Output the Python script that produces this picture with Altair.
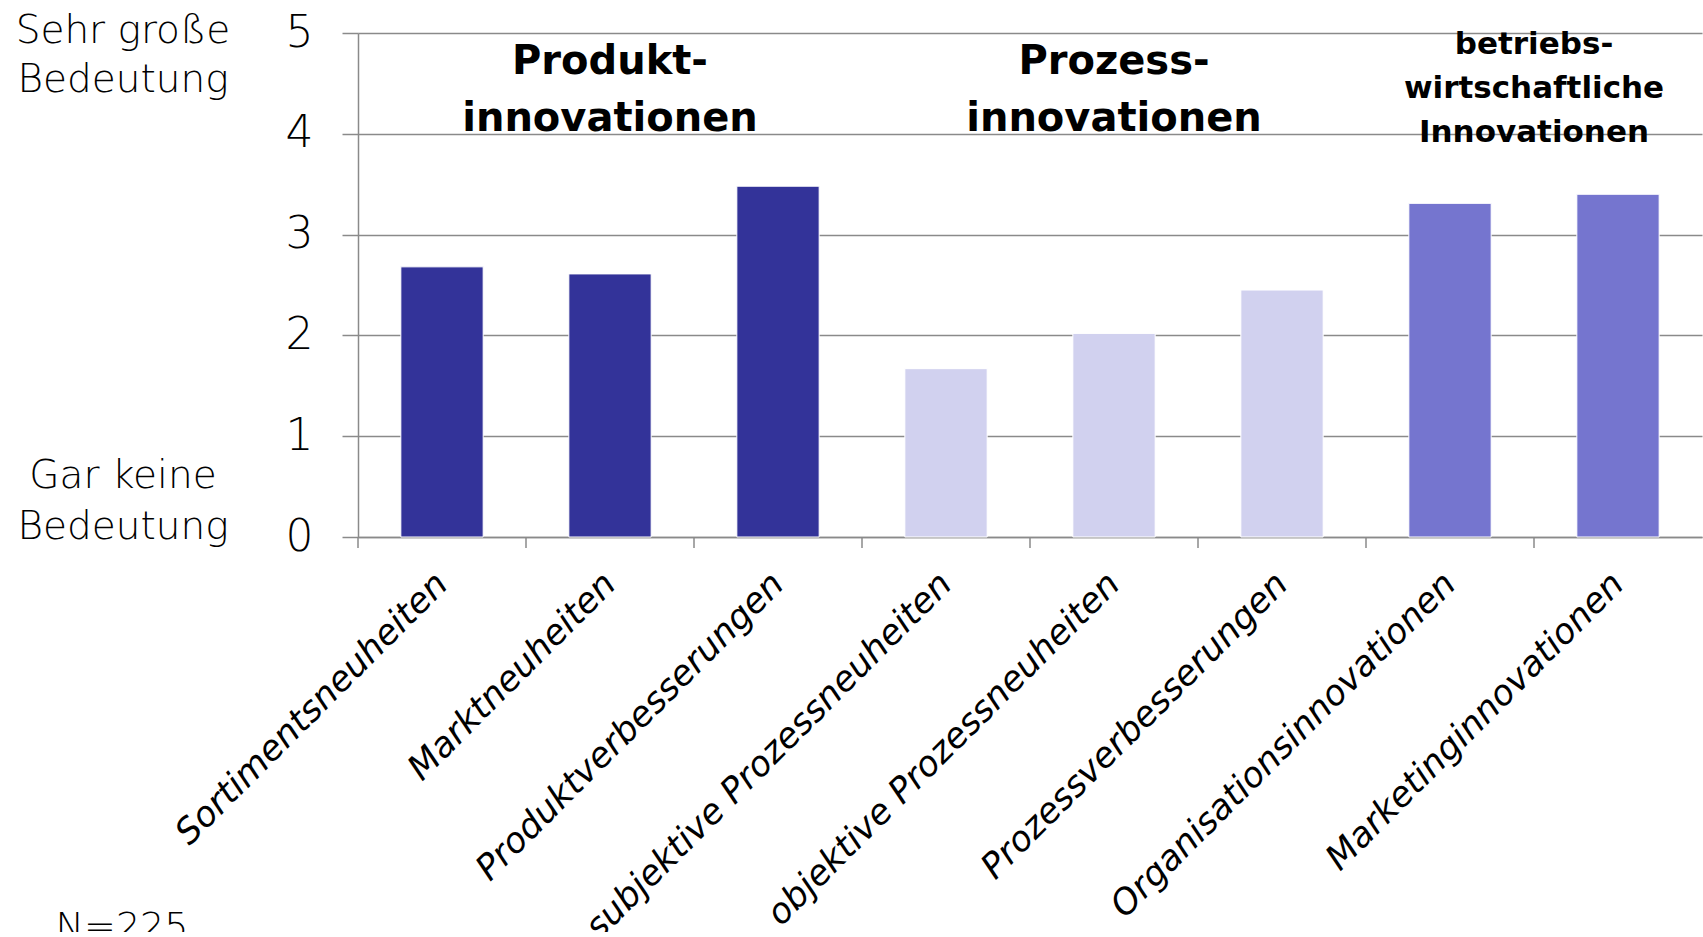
import altair as alt
import pandas as pd

categories = ["Sortimentsneuheiten", "Marktneuheiten", "Produktverbesserungen",
              "subjektive Prozessneuheiten", "objektive Prozessneuheiten",
              "Prozessverbesserungen", "Organisationsinnovationen", "Marketinginnovationen"]
values = [2.68, 2.61, 3.48, 1.67, 2.02, 2.45, 3.31, 3.40]
groups = ["Produkt", "Produkt", "Produkt", "Prozess", "Prozess", "Prozess", "Betrieb", "Betrieb"]
group_names = ["Produkt", "Prozess", "Betrieb"]
group_colors = ["#333399", "#D1D1EF", "#7575CF"]
y_ticks = [0, 1, 2, 3, 4, 5]
top_label = "Sehr große\nBedeutung"
bottom_label = "Gar keine\nBedeutung"
n_label = "N=225"
title_produkt = "Produkt-\ninnovationen"
title_prozess = "Prozess-\ninnovationen"
title_betrieb = "betriebs-\nwirtschaftliche\nInnovationen"

FONT = "DejaVu Sans"
LIGHT = 300
GRID = "#8a8a8a"

df = pd.DataFrame({"cat": categories, "val": values, "grp": groups})

xscale = alt.Scale(domain=categories, paddingInner=0, paddingOuter=0)
yscale = alt.Scale(domain=[0, 5], nice=False)

x_enc = alt.X("cat:N", sort=categories, scale=xscale,
              axis=alt.Axis(title=None, labelAngle=-45, labelAlign="right",
                            labelBaseline="middle", labelFontSize=35,
                            labelFontStyle="italic", labelFont=FONT, labelFontWeight=LIGHT,
                            labelColor="black", labelLimit=0,
                            labelPadding=41, ticks=False, tickSize=0,
                            domainColor=GRID, domainWidth=1.5, grid=False,
                            labelOverlap=False))
y_enc = alt.Y("val:Q", scale=yscale,
              axis=alt.Axis(title=None, values=y_ticks, labelFontSize=44, labelFont=FONT,
                            labelFontWeight=LIGHT,
                            labelColor="black", labelPadding=29, tickSize=16,
                            tickColor=GRID, tickWidth=1.5, domainColor=GRID, domainWidth=1.5,
                            grid=True, gridColor=GRID, gridWidth=1.5, format="d"))

bars = alt.Chart(df).mark_bar(width=alt.RelativeBandSize(0.49), stroke="white",
                              strokeWidth=1).encode(
    x=x_enc, y=y_enc,
    color=alt.Color("grp:N", scale=alt.Scale(domain=group_names, range=group_colors),
                    legend=None),
)

ticks = alt.Chart(df).mark_rule(color=GRID, strokeWidth=1.5).encode(
    x=alt.X("cat:N", sort=categories, scale=xscale, bandPosition=0),
    y=alt.datum(0),
    y2=alt.value(515),
)


def group_title(cat, text, band, ybase, size, lh):
    return alt.Chart(alt.Data(values=[{"cat": cat, "t": text}])).mark_text(
        font=FONT, fontWeight="bold", fontSize=size, lineHeight=lh, lineBreak="\n",
        align="center", baseline="alphabetic", color="black", clip=False,
    ).encode(
        x=alt.X("cat:N", sort=categories, scale=xscale, bandPosition=band),
        y=alt.datum(ybase),
        text="t:N",
    )


t1 = group_title(categories[1], title_produkt, 0.5, 4.595, 40, 57)
t2 = group_title(categories[4], title_prozess, 0.5, 4.595, 40, 57)
t3 = group_title(categories[6], title_betrieb, 1.0, 4.79, 31, 44)


def side_text(text, ybase, lh):
    return alt.Chart(alt.Data(values=[{"t": text}])).mark_text(
        font=FONT, fontSize=39, fontWeight=LIGHT, lineHeight=lh, lineBreak="\n",
        align="center", baseline="alphabetic", color="black", clip=False,
    ).encode(x=alt.value(-235), y=alt.datum(ybase), text="t:N")


s1 = side_text(top_label, 4.896, 49)
s2 = side_text(bottom_label, 0.49, 51)

n_text = alt.Chart(alt.Data(values=[{"t": n_label}])).mark_text(
    font=FONT, fontSize=38, fontWeight=LIGHT, align="center", baseline="alphabetic",
    color="black", clip=False,
).encode(x=alt.value(-236), y=alt.value(906), text="t:N")

chart = alt.layer(bars, ticks, t1, t2, t3, s1, s2, n_text).properties(
    width=1344, height=504,
    padding={"left": 358, "top": 33, "right": 1, "bottom": 395},
    autosize="none",
    background="white",
).configure_view(stroke=None)

chart.save("out.html", embed_options={"renderer": "svg", "actions": False})
